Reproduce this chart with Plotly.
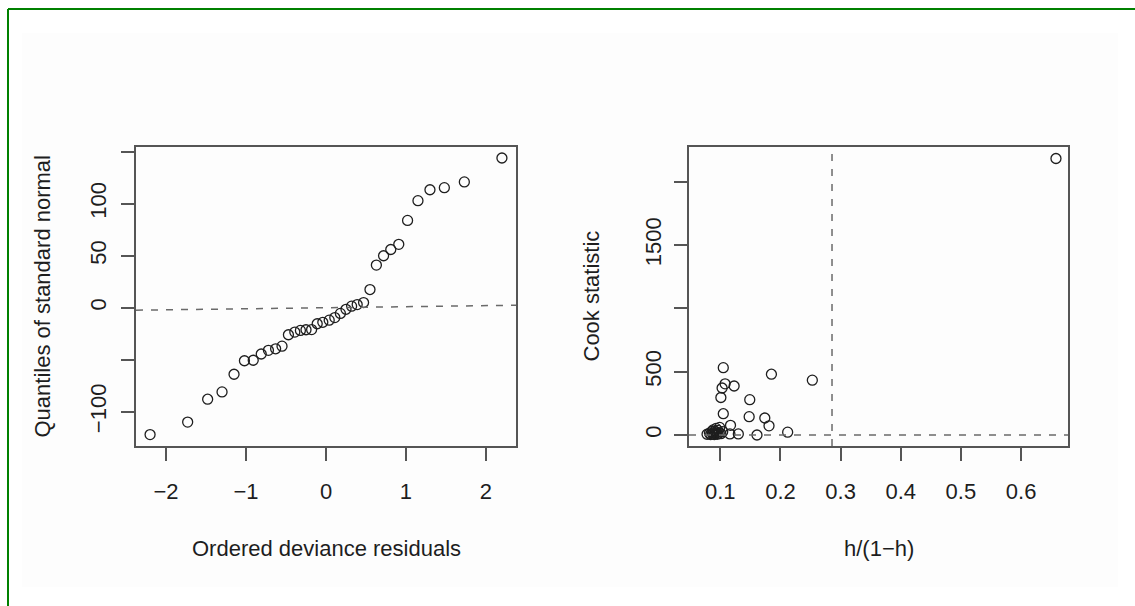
import plotly.graph_objects as go

# ---- data -------------------------------------------------------------
# left panel: ordered deviance residuals vs quantiles of standard normal
ordered_dev_resid = [-2.20, -1.73, -1.48, -1.30, -1.15, -1.02, -0.91, -0.81, -0.72,
                     -0.63, -0.55, -0.47, -0.39, -0.32, -0.25, -0.18, -0.11, -0.04,
                     0.04, 0.11, 0.18, 0.25, 0.32, 0.39, 0.47, 0.55, 0.63, 0.72,
                     0.81, 0.91, 1.02, 1.15, 1.30, 1.48, 1.73, 2.20]
std_normal_quant = [-122, -110, -88, -81, -64, -51, -50.5, -44.5, -41, -39.5, -37,
                    -26, -23.4, -21.8, -21.2, -21, -15.4, -14, -12, -9.5, -5.5,
                    -1.5, 1.5, 3, 5, 17.5, 41, 50, 56, 61, 84, 103, 113.5, 115.5,
                    121, 144]

# right panel: leverage h/(1-h) vs Cook statistic
leverage_ratio = [0.658, 0.105, 0.185, 0.253, 0.108, 0.123, 0.103, 0.101, 0.149,
                  0.105, 0.148, 0.174, 0.181, 0.117, 0.212, 0.161, 0.130, 0.116,
                  0.078, 0.082, 0.084, 0.086, 0.087, 0.088, 0.089, 0.090, 0.091,
                  0.092, 0.093, 0.094, 0.095, 0.096, 0.098, 0.099, 0.101, 0.104]
cook_stat = [2184, 532, 480, 433, 404, 387, 371, 296, 279, 168, 145, 134, 72, 76,
             22, 0, 8, 8, 6, 14, 3, 28, 9, 40, 18, 4, 30, 12, 52, 22, 6, 36, 15,
             60, 10, 26]

# reference lines
qq_intercept, qq_slope = 0.0, 1.0
cook_cutoff = 8 / 28          # horizontal line on Cook statistic
lev_cutoff = 8 / 28           # vertical line on h/(1-h)

left_xticks = [-2, -1, 0, 1, 2]
left_xlabels = ["\u22122", "\u22121", "0", "1", "2"]
left_yticks = [-100, -50, 0, 50, 100, 150]
left_ylabels = ["\u2212100", "", "0", "50", "100", ""]
right_xticks = [0.1, 0.2, 0.3, 0.4, 0.5, 0.6]
right_xlabels = ["0.1", "0.2", "0.3", "0.4", "0.5", "0.6"]
right_yticks = [0, 500, 1000, 1500, 2000]
right_ylabels = ["0", "500", "", "1500", ""]

# ---- page geometry (pixels) -------------------------------------------
W, H = 1135, 606
def px(x):
    return x / W
def py(y):
    return 1 - y / H

FONT = "Liberation Sans, Arial, Helvetica, sans-serif"
TXT = "#1e1e1e"
AX = "#555555"
DASH = "#6a6a6a"

left_xrange = [-2.376, 2.376]
left_yrange = [-133.0, 154.6]
right_xrange = [0.048, 0.678]
right_yrange = [-87.0, 2275.0]

fig = go.Figure()

marker = dict(symbol="circle-open", size=10, color="#1e1e1e", line=dict(width=1.3))

fig.add_trace(go.Scatter(x=ordered_dev_resid, y=std_normal_quant, mode="markers",
                         marker=marker, xaxis="x", yaxis="y", hoverinfo="x+y"))
fig.add_trace(go.Scatter(x=leverage_ratio, y=cook_stat, mode="markers",
                         marker=marker, xaxis="x2", yaxis="y2", hoverinfo="x+y"))

common_axis = dict(showline=True, mirror=True, linecolor=AX, linewidth=1.5,
                   ticks="outside", ticklen=13, tickwidth=1.5, tickcolor=AX,
                   showgrid=False, zeroline=False,
                   tickfont=dict(family=FONT, size=22, color=TXT))

fig.update_layout(
    width=W, height=H,
    margin=dict(l=0, r=0, t=0, b=0),
    paper_bgcolor="white", plot_bgcolor="rgba(0,0,0,0)",
    showlegend=False,
    xaxis=dict(common_axis, domain=[px(136), px(516)], range=left_xrange,
               tickmode="array", tickvals=left_xticks, ticktext=left_xlabels,
               anchor="y", ticklabelstandoff=12),
    yaxis=dict(common_axis, domain=[py(446), py(147)], range=left_yrange,
               tickmode="array", tickvals=left_yticks, ticktext=left_ylabels,
               tickangle=-90, anchor="x", ticklabelstandoff=6),
    xaxis2=dict(common_axis, domain=[px(689), px(1068)], range=right_xrange,
                tickmode="array", tickvals=right_xticks, ticktext=right_xlabels,
                anchor="y2", ticklabelstandoff=12),
    yaxis2=dict(common_axis, domain=[py(446), py(147)], range=right_yrange,
                tickmode="array", tickvals=right_yticks, ticktext=right_ylabels,
                tickangle=-90, anchor="x2", ticklabelstandoff=4),
)

dash_line = dict(color=DASH, width=1.5, dash="7px,8px")
shapes = [
    # faint canvas behind the panels
    dict(type="rect", xref="paper", yref="paper", x0=px(22), x1=px(1118),
         y0=py(587), y1=py(33), fillcolor="#fdfdfd", line=dict(width=0),
         layer="below"),
    # green frame (top and left edges)
    dict(type="line", xref="paper", yref="paper", x0=px(8), x1=1.0,
         y0=py(9), y1=py(9), line=dict(color="#008000", width=2)),
    dict(type="line", xref="paper", yref="paper", x0=px(8), x1=px(8),
         y0=0.0, y1=py(9), line=dict(color="#008000", width=2)),
    # reference line on the normal plot
    dict(type="line", xref="x", yref="y",
         x0=left_xrange[0], x1=left_xrange[1],
         y0=qq_intercept + qq_slope * left_xrange[0],
         y1=qq_intercept + qq_slope * left_xrange[1], line=dash_line),
    # cut-off lines on the Cook plot
    dict(type="line", xref="x2", yref="y2 domain", x0=lev_cutoff, x1=lev_cutoff,
         y0=0, y1=1, line=dash_line),
    dict(type="line", xref="x2 domain", yref="y2", x0=0, x1=1,
         y0=cook_cutoff, y1=cook_cutoff, line=dash_line),
]
fig.update_layout(shapes=shapes)

title_font = dict(family=FONT, size=22, color=TXT)
annotations = [
    dict(text="Ordered deviance residuals", x=px(326), y=py(548)),
    dict(text="h/(1\u2212h)", x=px(878.5), y=py(548)),
    dict(text="Quantiles of standard normal", x=px(42), y=py(296.5), textangle=-90),
    dict(text="Cook statistic", x=px(591), y=py(296.5), textangle=-90),
]
for a in annotations:
    a.update(xref="paper", yref="paper", showarrow=False, font=title_font,
             xanchor="center", yanchor="middle")
fig.update_layout(annotations=annotations)

fig.write_html("out.html")
